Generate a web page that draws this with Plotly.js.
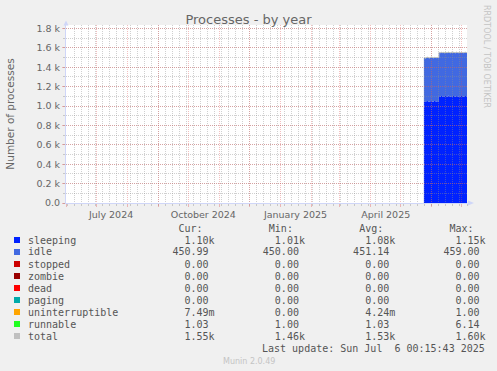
<!DOCTYPE html>
<html><head><meta charset="utf-8">
<script src="https://cdn.plot.ly/plotly-3.0.1.min.js"></script>
<style>html,body{margin:0;padding:0;background:#f0f0f0;}</style>
</head><body>
<div id="chart" style="width:497px;height:371px;"></div>
<script>
// ---------- data ----------
const dates = [
 '2025-05-24','2025-05-25','2025-05-26','2025-05-27','2025-05-28','2025-05-29','2025-05-30','2025-05-31',
 '2025-06-01','2025-06-02','2025-06-03','2025-06-04','2025-06-05','2025-06-06','2025-06-07','2025-06-08',
 '2025-06-09','2025-06-10','2025-06-11','2025-06-12','2025-06-13','2025-06-14','2025-06-15','2025-06-16',
 '2025-06-17','2025-06-18','2025-06-19','2025-06-20','2025-06-21','2025-06-22','2025-06-23','2025-06-24',
 '2025-06-25','2025-06-26','2025-06-27','2025-06-28','2025-06-29','2025-06-30','2025-07-01','2025-07-02',
 '2025-07-03','2025-07-04','2025-07-05','2025-07-06'];
const sleeping = [1046,1043,1049,1052,1047,1044,1050,1053,1048,1045,1051,1049,1046,1050,1048,
 1101,1097,1104,1099,1102,1096,1103,1100,1098,1105,1101,1097,1102,1099,1103,1100,1096,1104,1101,1098,1102,1099,1103,1100,1097,1101,1104,1100,
 1100];
const idle = [452,451,450,451,452,451,450,451,453,451,450,451,452,451,450,
 451,452,450,451,451,452,450,451,452,451,450,451,452,451,450,451,452,451,450,451,451,452,450,451,452,451,450,451,
 451];
const stopped = [0,0,0,0,0,0,0,0,0,0,0,0,0,0,0,0,0,0,0,0,0,0,0,0,0,0,0,0,0,0,0,0,0,0,0,0,0,0,0,0,0,0,0,0];
const zombie  = [0,0,0,0,0,0,0,0,0,0,0,0,0,0,0,0,0,0,0,0,0,0,0,0,0,0,0,0,0,0,0,0,0,0,0,0,0,0,0,0,0,0,0,0];
const dead    = [0,0,0,0,0,0,0,0,0,0,0,0,0,0,0,0,0,0,0,0,0,0,0,0,0,0,0,0,0,0,0,0,0,0,0,0,0,0,0,0,0,0,0,0];
const paging  = [0,0,0,0,0,0,0,0,0,0,0,0,0,0,0,0,0,0,0,0,0,0,0,0,0,0,0,0,0,0,0,0,0,0,0,0,0,0,0,0,0,0,0,0];
const uninterruptible = [0,0.01,0,0,0.02,0,0,0.01,0,0,0,0.01,0,0,0,
 0,0,0.01,0,0,0,0.02,0,0,0.01,0,0,0,0,0.01,0,0,0,0.02,0,0,0,0.01,0,0,0,0,0.01,
 0.01];
const runnable = [1.03,1.02,1.04,1.03,1.05,1.02,1.03,1.04,1.03,1.02,1.03,1.04,1.03,1.02,1.03,
 1.03,1.04,1.02,1.03,1.03,1.05,1.02,1.03,1.04,1.03,1.02,1.03,1.04,1.03,1.02,1.03,1.03,1.04,1.02,1.03,1.05,1.03,1.02,1.03,1.04,1.03,1.02,1.03,
 1.03];
const total = [1499,1495,1500,1504,1500,1496,1501,1505,1502,1497,1502,1501,1499,1502,1499,
 1553,1550,1555,1551,1554,1549,1554,1552,1551,1557,1552,1549,1555,1551,1554,1552,1549,1556,1552,1550,1554,1552,1554,1552,1550,1553,1555,1552,
 1552];

const seriesNames  = ['sleeping','idle','stopped','zombie','dead','paging','uninterruptible','runnable','total'];
const seriesColors = ['#0022ff','#4169e1','#cc0000','#990000','#ff0000','#00aaaa','#ffa500','#22ff22','#c0c0c0'];
const curVals = ['1.10k','450.99','0.00','0.00','0.00','0.00','7.49m','1.03','1.55k'];
const minVals = ['1.01k','450.00','0.00','0.00','0.00','0.00','0.00','1.00','1.46k'];
const avgVals = ['1.08k','451.14','0.00','0.00','0.00','0.00','4.24m','1.03','1.53k'];
const maxVals = ['1.15k','459.00','0.00','0.00','0.00','0.00','1.00','6.14','1.60k'];

const monthTicks = ['2024-06-01','2024-07-01','2024-08-01','2024-09-01','2024-10-01','2024-11-01','2024-12-01',
 '2025-01-01','2025-02-01','2025-03-01','2025-04-01','2025-05-01','2025-06-01','2025-07-01'];
const monthTickText = ['','July 2024','','','October 2024','','','January 2025','','','April 2025','','',''];
const yTickVals = [0,200,400,600,800,1000,1200,1400,1600,1800];
const yTickText = ['0.0','0.2 k','0.4 k','0.6 k','0.8 k','1.0 k','1.2 k','1.4 k','1.6 k','1.8 k'];

// ---------- layout helpers ----------
const W=497,H=371,L=66,R=30,T=25,B=168;
const PW=W-L-R, PH=H-T-B, Y0=H-B;
const X=px=>(px-L)/PW, Y=py=>(Y0-py)/PH;
const xRange=['2024-06-01','2025-07-06'];
const yRange=[0,1836];
const FONT='DejaVu Sans', MONO='DejaVu Sans Mono';
const MGRID='rgba(222,80,80,0.36)', GRID='rgba(143,143,143,0.42)', AXIS='#cfd6f8';

// ---------- traces ----------
const stackSeries=[sleeping,idle,stopped,zombie,dead,paging,uninterruptible,runnable];
const traces=stackSeries.map((arr,i)=>({
  x:dates, y:arr, type:'scatter', mode:'lines', stackgroup:'one', name:seriesNames[i],
  line:{width:0, shape:'hv', color:seriesColors[i]}, fillcolor:seriesColors[i],
  hoverinfo:'skip', showlegend:false, xaxis:'x', yaxis:'y'}));
// total line sits on the top (grid-bearing) subplot
traces.push({x:dates, y:total, type:'scatter', mode:'lines', name:'total',
  line:{width:1, shape:'hv', color:seriesColors[8]}, hoverinfo:'skip', showlegend:false, xaxis:'x2', yaxis:'y2'});

// ---------- legend table ----------
const nb=s=>s.replace(/ /g,'\u00a0');
const fld=s=>(/[a-z]$/.test(s)?s:s+' ').padStart(7);
const annotations=[];
const shapes=[];
// canvas (white) below everything
shapes.push({type:'rect',xref:'paper',yref:'paper',x0:0,x1:1,y0:0,y1:1,fillcolor:'#ffffff',line:{width:0},layer:'below'});
annotations.push({xref:'paper',yref:'paper',x:X(26.7),y:Y(228),xanchor:'left',yanchor:'middle',showarrow:false,borderpad:0,
  text:nb(' '.repeat(25)+'Cur:'+' '.repeat(11)+'Min:'+' '.repeat(11)+'Avg:'+' '.repeat(11)+'Max:'),
  font:{family:MONO,size:10,color:'#555'}});
seriesNames.forEach((n,i)=>{
  const cy=240+12*i;
  const row=n.padEnd(24)+fld(curVals[i])+' '.repeat(8)+fld(minVals[i])+' '.repeat(8)+fld(avgVals[i])+' '.repeat(8)+fld(maxVals[i]);
  annotations.push({xref:'paper',yref:'paper',x:X(26.7),y:Y(cy),xanchor:'left',yanchor:'middle',showarrow:false,borderpad:0,
    text:nb(row),font:{family:MONO,size:10,color:'#555'}});
  shapes.push({type:'rect',xref:'paper',yref:'paper',x0:X(14),x1:X(20),y0:Y(cy+3),y1:Y(cy-3),
    fillcolor:seriesColors[i],line:{width:0}});
});
annotations.push({xref:'paper',yref:'paper',x:X(26.7+39*6.02),y:Y(348),xanchor:'left',yanchor:'middle',showarrow:false,borderpad:0,
  text:nb('Last update: Sun Jul  6 00:15:43 2025'),font:{family:MONO,size:10,color:'#555'}});
annotations.push({xref:'paper',yref:'paper',x:X(248.5),y:Y(361),xanchor:'center',yanchor:'middle',showarrow:false,borderpad:0,
  text:'Munin 2.0.49',font:{family:FONT,size:8,color:'#c4c4c4'}});
annotations.push({xref:'paper',yref:'paper',x:X(487),y:Y(56),xanchor:'center',yanchor:'middle',showarrow:false,borderpad:0,
  textangle:90,text:'RRDTOOL / TOBI OETIKER',font:{family:FONT,size:8,color:'#c4c4c4'}});

// axis arrows
shapes.push({type:'line',xref:'paper',yref:'paper',x0:1,x1:X(469),y0:0,y1:0,line:{color:AXIS,width:1},layer:'above'});
shapes.push({type:'path',xref:'paper',yref:'paper',layer:'above',fillcolor:AXIS,line:{width:0},
  path:`M${X(468)},${Y(200.5)} L${X(474)},${Y(203)} L${X(468)},${Y(205.5)} Z`});
shapes.push({type:'line',xref:'paper',yref:'paper',x0:0,x1:0,y0:1,y1:Y(24),line:{color:AXIS,width:1},layer:'above'});
shapes.push({type:'path',xref:'paper',yref:'paper',layer:'above',fillcolor:AXIS,line:{width:0},
  path:`M${X(63.5)},${Y(25.5)} L${X(66)},${Y(20.5)} L${X(68.5)},${Y(25.5)} Z`});

const layout={
  width:W,height:H,margin:{l:L,r:R,t:T,b:B,pad:0},
  paper_bgcolor:'#f0f0f0',plot_bgcolor:'rgba(0,0,0,0)',showlegend:false,
  font:{family:FONT,color:'#666'},
  title:{text:'Processes - by year',font:{family:FONT,size:13,color:'#666'},
    x:0.5,xref:'container',xanchor:'center',y:1-19/H,yref:'container',yanchor:'middle'},
  xaxis:{type:'date',range:xRange,visible:false,fixedrange:true},
  yaxis:{range:yRange,visible:false,fixedrange:true},
  xaxis2:{type:'date',range:xRange,anchor:'y2',fixedrange:true,
    tickmode:'array',tickvals:monthTicks,ticktext:monthTickText,ticklabelshift:15,
    showgrid:true,gridcolor:MGRID,griddash:'1px,1px',gridwidth:1,
    ticks:'outside',ticklen:3,tickcolor:MGRID,tickfont:{family:FONT,size:9.5,color:'#666'},
    showline:true,linecolor:AXIS,linewidth:1,zeroline:false,
    minor:{tickmode:'linear',tick0:'2024-06-02',dtick:604800000,showgrid:true,gridcolor:GRID,griddash:'1px,1px',
      ticks:'outside',ticklen:2,tickcolor:GRID}},
  yaxis2:{range:yRange,anchor:'x2',fixedrange:true,
    tickmode:'array',tickvals:yTickVals,ticktext:yTickText,
    showgrid:true,gridcolor:MGRID,griddash:'1px,1px',gridwidth:1,
    ticks:'outside',ticklen:3,tickcolor:MGRID,tickfont:{family:FONT,size:9.5,color:'#666'},
    showline:true,linecolor:AXIS,linewidth:1,zeroline:false,
    minor:{tickmode:'linear',tick0:0,dtick:100,showgrid:true,gridcolor:GRID,griddash:'1px,1px',
      ticks:'outside',ticklen:2,tickcolor:GRID},
    title:{text:'Number of processes',font:{family:FONT,size:10.5,color:'#666'},standoff:19}},
  annotations:annotations,shapes:shapes
};
Plotly.newPlot('chart',traces,layout,{staticPlot:true,displayModeBar:false});
</script>
</body></html>
